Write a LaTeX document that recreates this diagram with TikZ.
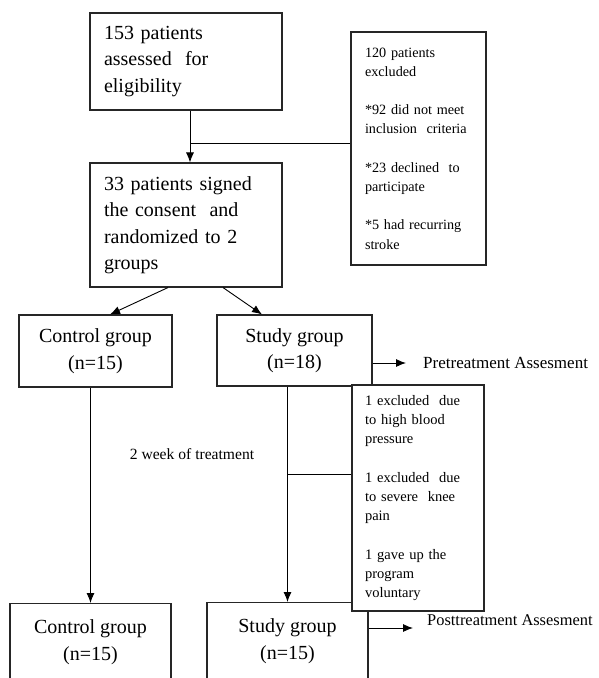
\documentclass[tikz,border=0pt]{standalone}
\usepackage{fontspec}
\setmainfont{Liberation Serif}
\usepackage{tikz}
\usetikzlibrary{arrows.meta}

\tikzset{
  bigbox/.style={draw=black!85, line width=1.1pt, fill=white, inner ysep=0pt,
    font=\fontsize{20}{26.5}\selectfont},
  smallbox/.style={draw=black!85, line width=1.1pt, fill=white, inner ysep=0pt,
    align=left, font=\fontsize{14.2}{19.2}\selectfont},
  arr/.style={-{Latex[length=10pt,width=8pt]}, line width=0.9pt},
  link/.style={line width=0.9pt}
}

\begin{document}
\begin{tikzpicture}[x=1pt,y=-1pt]
             \clip (0,0) rectangle (598,678);
             \fill[white] (0,0) rectangle (598,678);

             \node[bigbox, minimum width=192pt, minimum height=97pt, text width=164pt, align=left,
                   inner xsep=14pt] (assess) at (186,61.5)
                   {153 patients\\assessed\ \ for\\eligibility};
             \node[smallbox, minimum width=135pt, minimum height=233pt, text width=107pt,
                   inner xsep=14pt] (excl) at (418.5,148.5)
                   {120 patients\\excluded\\[19.2pt]*92 did not meet\\inclusion\ \ criteria\\[19.2pt]*23 declined\ \ to\\participate\\[19.2pt]*5 had recurring\\stroke};
             \node[bigbox, minimum width=192pt, minimum height=124pt, text width=164pt, align=left,
                   inner xsep=14pt] (consent) at (186,225)
                   {33 patients signed\\the consent\ \ and\\randomized to 2\\groups};

             \node[bigbox, minimum width=153pt, minimum height=72pt, align=center] (ctrl) at (95.5,351)
                   {Control group\\(n=15)};
             \node[bigbox, minimum width=155pt, minimum height=71pt, align=center] (study) at (294.5,350.5)
                   {Study group\\(n=18)};
             \node[anchor=west, inner xsep=17pt, inner ysep=0pt, font=\fontsize{17}{20}\selectfont]
                   (pre) at (406,363) {Pretreatment Assesment};

             \node[font=\fontsize{15.6}{19}\selectfont] (weeks) at (192,454) {2 week of treatment};

             \node[bigbox, minimum width=161pt, minimum height=100pt, align=center, anchor=north]
                   (ctrlpost) at (90.5,603) {Control group\\(n=15)\\\mbox{}};
             \node[bigbox, minimum width=161pt, minimum height=100pt, align=center, anchor=north]
                   (studypost) at (287.5,602) {Study group\\(n=15)\\\mbox{}};

             \node[smallbox, minimum width=132pt, minimum height=226pt, text width=106pt,
                   inner xsep=13pt, font=\fontsize{14.5}{19.2}\selectfont] (drop) at (418,498)
                   {1 excluded\ \ due\\to high blood\\pressure\\[19.2pt]1 excluded\ \ due\\to severe\ \ knee\\pain\\[19.2pt]1 gave up the\\program\\voluntary};

             \node[anchor=west, inner xsep=14pt, inner ysep=0pt, font=\fontsize{16.4}{20}\selectfont]
                   (post) at (413,620) {Posttreatment Assesment};

             \coordinate (j1) at (190,143);
             \coordinate (j2) at (287.5,474);
             \coordinate (posttip) at ([yshift=-8pt]post.west);

             \draw[arr] (assess.south -| j1) -- (consent.north -| j1);
             \draw[link] (j1) -- (j1 -| excl.west);

             \draw[arr] ([xshift=-18pt]consent.south) -- ([xshift=14.5pt]ctrl.north);
             \draw[arr] ([xshift=37pt]consent.south) -- ([xshift=-32.5pt]study.north);
             \draw[arr] (study.east |- pre.west) -- (pre.west);

             \draw[arr] (ctrl.south -| ctrlpost.north) -- (ctrlpost.north);
             \draw[arr] (study.south -| studypost.north) -- (studypost.north);
             \draw[link] (j2) -- (j2 -| drop.west);

             \draw[arr] (studypost.east |- posttip) -- (posttip);
\end{tikzpicture}
\end{document}
